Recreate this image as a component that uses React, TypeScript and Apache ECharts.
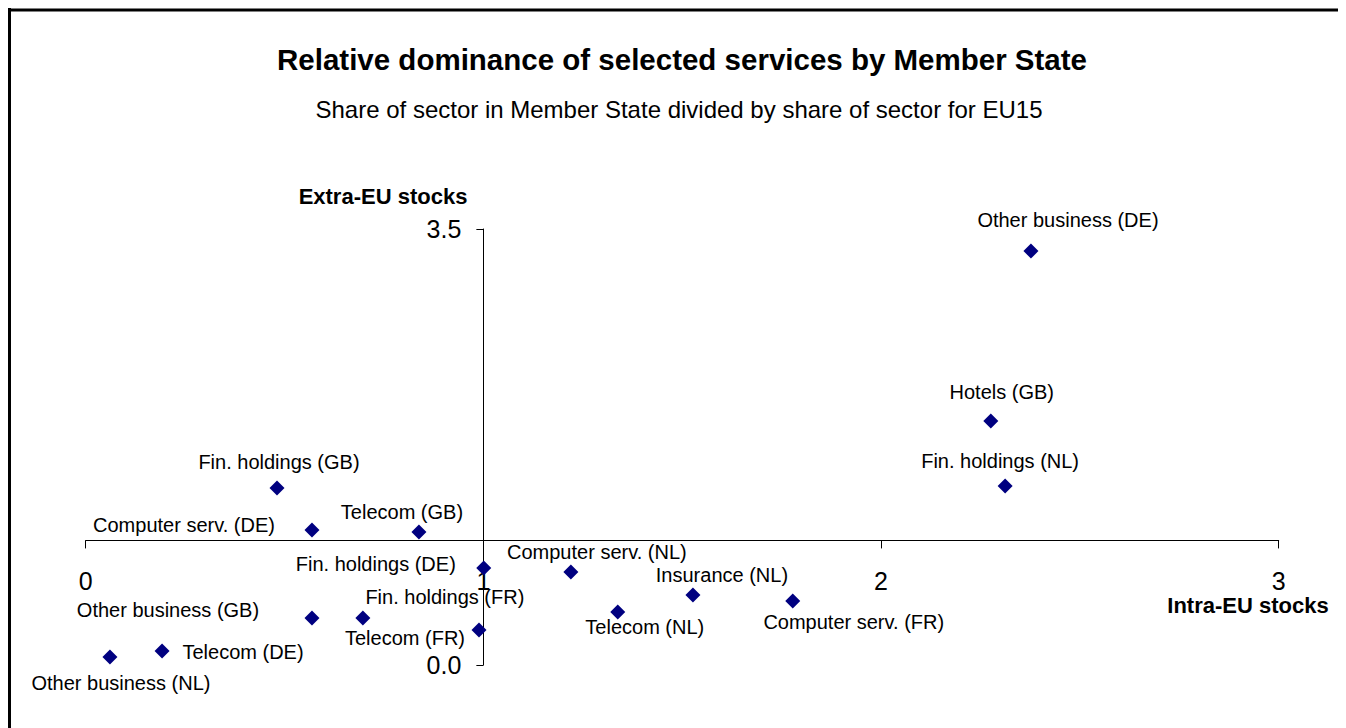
import React, { useEffect, useRef } from "react";
import * as echarts from "echarts";

const TITLE = "Relative dominance of selected services by Member State";
const SUBTITLE = "Share of sector in Member State divided by share of sector for EU15";
const X_NAME = "Intra-EU stocks";
const Y_NAME = "Extra-EU stocks";

const names = [
  "Other business (DE)",
  "Hotels (GB)",
  "Fin. holdings (NL)",
  "Fin. holdings (GB)",
  "Computer serv. (DE)",
  "Telecom (GB)",
  "Fin. holdings (DE)",
  "Computer serv. (NL)",
  "Insurance (NL)",
  "Computer serv. (FR)",
  "Telecom (NL)",
  "Fin. holdings (FR)",
  "Other business (GB)",
  "Telecom (FR)",
  "Telecom (DE)",
  "Other business (NL)",
];
const intraEU = [2.377, 2.276, 2.312, 0.481, 0.569, 0.838, 1.001, 1.22, 1.527, 1.778, 1.338, 0.697, 0.569, 0.989, 0.192, 0.061];
const extraEU = [3.323, 1.958, 1.437, 1.421, 1.084, 1.068, 0.779, 0.747, 0.562, 0.514, 0.425, 0.377, 0.377, 0.281, 0.112, 0.064];

// axis ranges and crossing values
const X_MIN = 0, X_MAX = 3, X_STEP = 1, X_CROSS = 1;
const Y_MIN = 0, Y_MAX = 3.5, Y_STEP = 3.5, Y_CROSS = 1;

// label placement relative to each marker (px)
const labelOffsets = [
  [37, -31], [11, -29], [-5, -25], [2, -26], [-128, -5], [-17, -20], [-108, -4], [26, -20],
  [29, -20], [61, 21], [27, 15], [82, -21], [-144, -8], [-74, 8], [81, 1], [11, 26],
];

const FONT = '"Liberation Sans", Arial, sans-serif';
const W = 1338, H = 720;
const GRID = { left: 77.7, right: 67.3, top: 221, bottom: 63 };

export default function App() {
  const ref = useRef<HTMLDivElement>(null);
  useEffect(() => {
    if (!ref.current) return;
    document.body.style.overflow = "hidden";
    const chart = echarts.init(ref.current, null, { renderer: "svg" });
    const gw = W - GRID.left - GRID.right;
    const gh = H - GRID.top - GRID.bottom;
    // move the axes so that they cross at (X_CROSS, Y_CROSS)
    const xAxisShift = -((Y_CROSS - Y_MIN) / (Y_MAX - Y_MIN)) * gh;
    const yAxisShift = -((X_CROSS - X_MIN) / (X_MAX - X_MIN)) * gw;
    const data = names.map((n, i) => ({
      name: n,
      value: [intraEU[i], extraEU[i]],
      label: { offset: labelOffsets[i] },
    }));
    chart.setOption({
      animation: false,
      backgroundColor: "#fff",
      title: [
        {
          text: TITLE,
          left: 669,
          top: 31,
          textAlign: "center",
          textStyle: { fontSize: 29.5, fontWeight: "bold", color: "#000", fontFamily: FONT },
        },
        {
          text: SUBTITLE,
          left: 666,
          top: 84,
          textAlign: "center",
          textStyle: { fontSize: 24, fontWeight: "normal", color: "#000", fontFamily: FONT },
        },
      ],
      grid: { ...GRID, outerBoundsMode: "none" },
      xAxis: {
        type: "value",
        min: X_MIN,
        max: X_MAX,
        interval: X_STEP,
        position: "bottom",
        offset: xAxisShift,
        axisLine: { show: true, onZero: false, lineStyle: { color: "#000", width: 1 } },
        axisTick: { show: true, length: 8, lineStyle: { color: "#000" } },
        axisLabel: { fontSize: 25, color: "#000", margin: 28, fontFamily: FONT },
        splitLine: { show: false },
      },
      yAxis: {
        type: "value",
        min: Y_MIN,
        max: Y_MAX,
        interval: Y_STEP,
        position: "left",
        offset: yAxisShift,
        axisLine: { show: true, onZero: false, lineStyle: { color: "#000", width: 1 } },
        axisTick: { show: true, length: 7, lineStyle: { color: "#000" } },
        axisLabel: {
          fontSize: 25,
          color: "#000",
          margin: 22,
          fontFamily: FONT,
          formatter: (v: number) => v.toFixed(1),
        },
        splitLine: { show: false },
      },
      graphic: [
        { type: "line", shape: { x1: 1.5, y1: 0, x2: 1.5, y2: H }, style: { stroke: "#000", lineWidth: 3 } },
        { type: "line", shape: { x1: 0, y1: 2, x2: W, y2: 2 }, style: { stroke: "#000", lineWidth: 3 } },
        {
          type: "text",
          x: 375,
          y: 188,
          style: {
            text: Y_NAME,
            align: "center",
            verticalAlign: "middle",
            fontSize: 22,
            fontWeight: "bold",
            fontFamily: FONT,
            fill: "#000",
          },
        },
        {
          type: "text",
          x: 1240,
          y: 597,
          style: {
            text: X_NAME,
            align: "center",
            verticalAlign: "middle",
            fontSize: 22,
            fontWeight: "bold",
            fontFamily: FONT,
            fill: "#000",
          },
        },
      ],
      series: [
        {
          type: "scatter",
          symbol: "diamond",
          symbolSize: 15,
          itemStyle: { color: "#000080", opacity: 1 },
          label: {
            show: true,
            position: "inside",
            formatter: "{b}",
            color: "#000",
            fontSize: 20,
            fontFamily: FONT,
          },
          emphasis: { disabled: true },
          data,
        },
      ],
    });
    return () => chart.dispose();
  }, []);
  return <div ref={ref} style={{ width: W, height: H }} />;
}
